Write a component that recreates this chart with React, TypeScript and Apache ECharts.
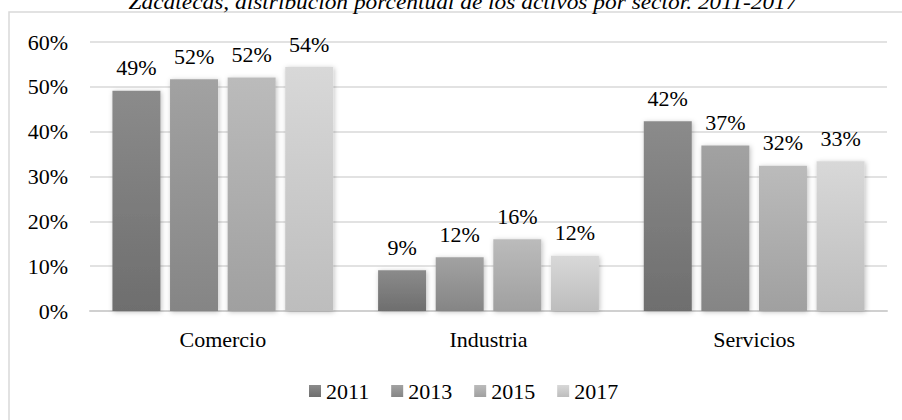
import React, { useEffect, useRef } from "react";
import * as echarts from "echarts";

const titleText = "Zacatecas, distribución porcentual de los activos por sector. 2011-2017";
const categories = ["Comercio", "Industria", "Servicios"];
const years = ["2011", "2013", "2015", "2017"];
const values2011 = [49.1, 9.1, 42.3];
const values2013 = [51.7, 12.0, 36.9];
const values2015 = [52.1, 16.0, 32.4];
const values2017 = [54.4, 12.3, 33.4];
const yTicks = [0, 10, 20, 30, 40, 50, 60];

const seriesValues = [values2011, values2013, values2015, values2017];
const topColors = ["#8b8b8b", "#a2a2a2", "#bbbbbb", "#d8d8d8"];
const bottomColors = ["#6e6e6e", "#858585", "#a0a0a0", "#bdbdbd"];

const FONT = "'Liberation Serif', 'DejaVu Serif', serif";

export default function App() {
  const ref = useRef<HTMLDivElement>(null);
  useEffect(() => {
    if (!ref.current) return;
    const chart = echarts.init(ref.current, null, { renderer: "svg" });
    chart.setOption({
      animation: false,
      backgroundColor: "#ffffff",
      graphic: [
        {
          type: "rect",
          shape: { x: 9, y: 12, width: 910, height: 420 },
          style: { fill: "none", stroke: "#d9d9d9", lineWidth: 1.5 },
          z: -1,
        },
        {
          type: "text",
          x: 463,
          y: 13,
          scaleX: 1.17,
          style: {
            text: titleText,
            fontFamily: FONT,
            fontStyle: "italic",
            fontSize: 20,
            fill: "#000000",
            align: "center",
            verticalAlign: "bottom",
          },
        },
      ],
      legend: {
        data: years,
        top: 375,
        left: 304,
        itemWidth: 12,
        itemHeight: 12,
        itemGap: 22,
        icon: "rect",
        textStyle: { fontFamily: FONT, fontSize: 22, color: "#000" },
      },
      grid: { left: 90, right: 15, top: 42, bottom: 109, containLabel: false },
      xAxis: {
        type: "category",
        data: categories,
        axisLine: { show: true, lineStyle: { color: "#d0d0d0", width: 2 } },
        axisTick: { show: false },
        axisLabel: { fontFamily: FONT, fontSize: 22, color: "#000", margin: 17 },
      },
      yAxis: {
        type: "value",
        min: yTicks[0],
        max: yTicks[yTicks.length - 1],
        interval: 10,
        axisLine: { show: false },
        axisTick: { show: false },
        splitLine: { lineStyle: { color: "#d9d9d9", width: 1.5 } },
        axisLabel: {
          fontFamily: FONT,
          fontSize: 22,
          color: "#000",
          margin: 22,
          formatter: (v: number) => `${v}%`,
        },
      },
      series: years.map((y, i) => ({
        name: y,
        type: "bar",
        data: seriesValues[i],
        barWidth: 48,
        barGap: "20%",
        itemStyle: {
          color: new echarts.graphic.LinearGradient(0, 0, 0, 1, [
            { offset: 0, color: topColors[i] },
            { offset: 1, color: bottomColors[i] },
          ]),
          shadowBlur: 5,
          shadowColor: "rgba(0,0,0,0.25)",
          shadowOffsetX: 1,
          shadowOffsetY: 1,
        },
        label: {
          show: true,
          position: "top",
          distance: 12,
          fontFamily: FONT,
          fontSize: 22,
          color: "#000",
          formatter: (p: any) => `${Math.round(p.value)}%`,
        },
      })),
    });
    return () => chart.dispose();
  }, []);
  return (
    <div
      ref={ref}
      style={{ position: "absolute", left: 0, top: 0, width: 902, height: 420 }}
    />
  );
}
